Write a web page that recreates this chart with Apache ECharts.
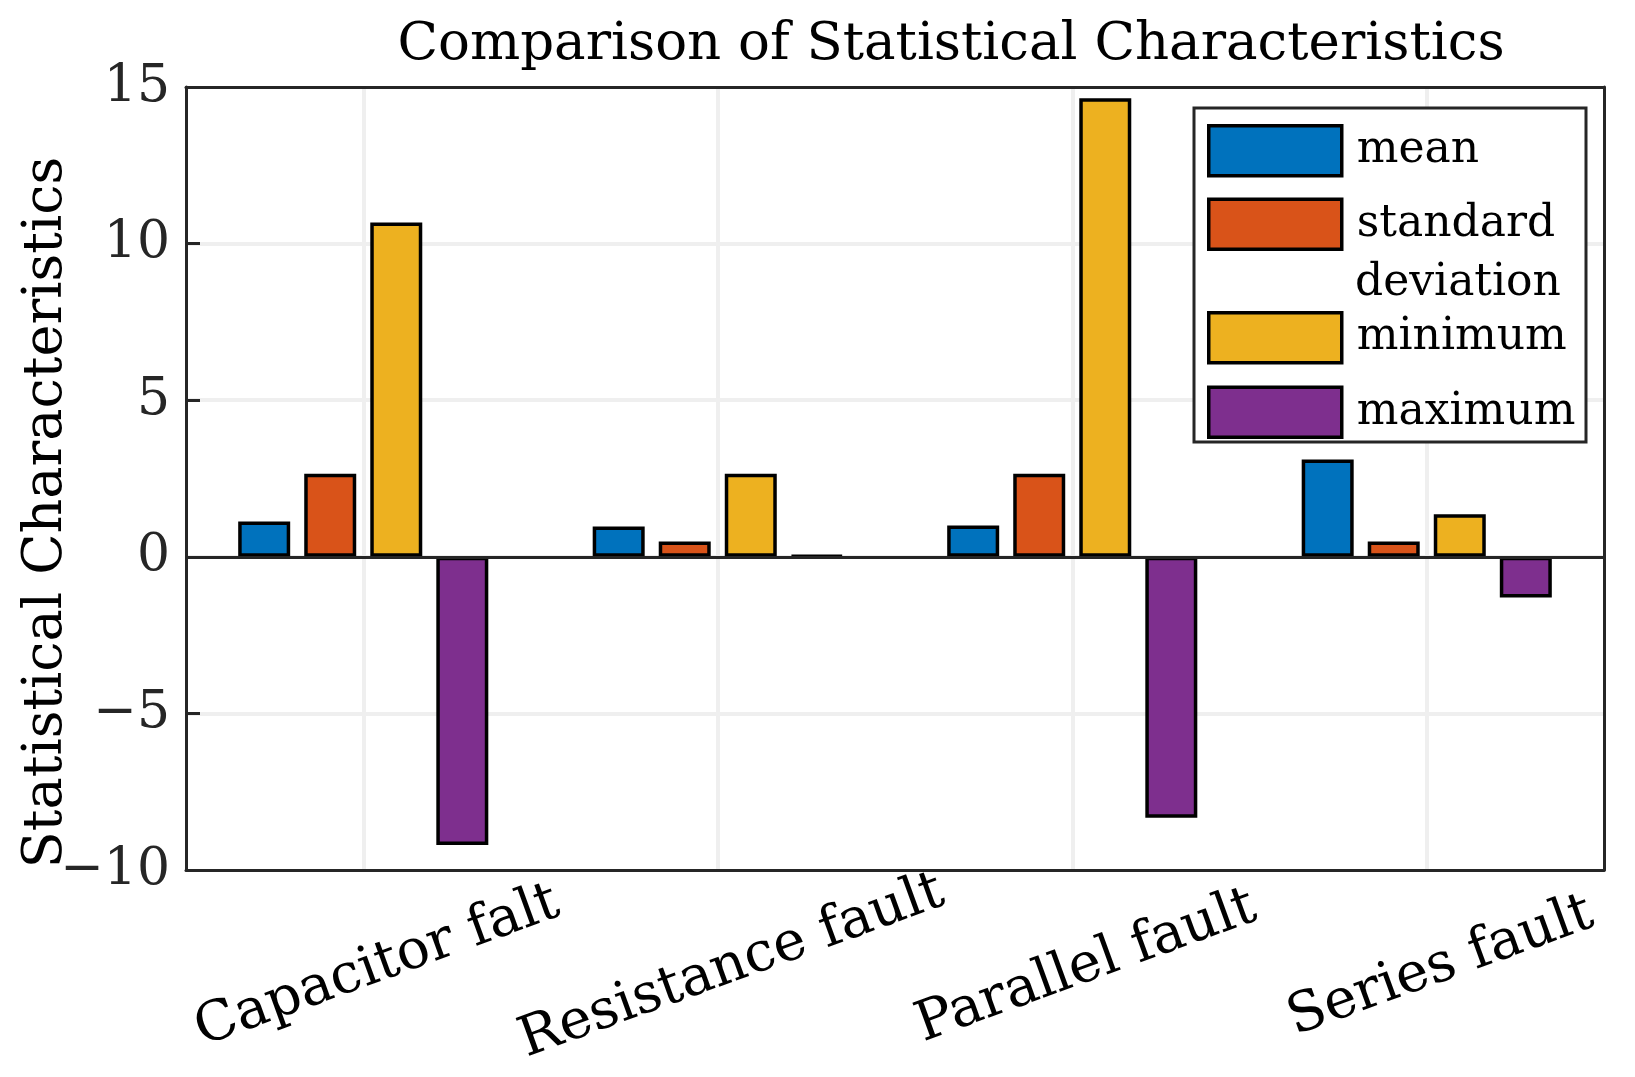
<!DOCTYPE html>
<html lang="en">
<head>
    <meta charset="UTF-8">
    <title>Comparison of Statistical Characteristics</title>
    <style>
        html, body {margin: 0; padding: 0; background: #fff;}
        #main {width: 1635px; height: 1077px;}
    </style>
</head>
<body>
<div id="main"></div>
<script src="https://cdn.jsdelivr.net/npm/echarts@6/dist/echarts.min.js"></script>
<script type="text/javascript">
// data
var categories = ['Capacitor falt', 'Resistance fault', 'Parallel fault', 'Series fault'];
var seriesNames = ['mean', 'standard deviation', 'minimum', 'maximum'];
var meanVals = [1.13, 0.97, 1.0, 3.11];
var stdVals = [2.65, 0.49, 2.65, 0.49];
var minVals = [10.67, 2.65, 14.64, 1.36];
var maxVals = [-9.2, 0.04, -8.33, -1.3];
var yTicks = {min: -10, max: 15, step: 5};

var colors = ['#0072BD', '#D95319', '#EDB120', '#7E2F8E'];
var FONT = '"DejaVu Serif", serif';
var AXIS = '#262626';
var GRIDC = '#efefef';

var chart = echarts.init(document.getElementById('main'));

function barSeries(name, data, idx) {
    var s = {
        name: name,
        type: 'bar',
        data: data,
        barWidth: 52,
        barGap: '27%',
        itemStyle: {color: colors[idx], borderColor: '#000', borderWidth: 3.5},
        emphasis: {disabled: true}
    };
    if (idx === 0) {
        // baseline at zero
        s.markLine = {
            symbol: 'none',
            silent: true,
            label: {show: false},
            lineStyle: {color: AXIS, width: 3, type: 'solid'},
            data: [{yAxis: 0}]
        };
    }
    return s;
}

// plain axes only used to draw the box (top / right)
function boxAxis(pos, isX) {
    var a = {
        position: pos,
        z: 10,
        axisLine: {show: true, onZero: false, lineStyle: {color: AXIS, width: 3}},
        axisTick: {show: false},
        axisLabel: {show: false},
        splitLine: {show: false}
    };
    if (isX) {
        a.type = 'category';
        a.data = categories;
    } else {
        a.type = 'value';
        a.min = yTicks.min; a.max = yTicks.max; a.interval = yTicks.step;
    }
    return a;
}

var legendText = {fontFamily: FONT, fontSize: 44, color: '#000', padding: [0, 0, 0, 10]};
var legendIcon = {borderColor: '#000', borderWidth: 3.5};

chart.setOption({
    animation: false,
    title: {
        text: 'Comparison of Statistical Characteristics',
        left: 946,
        textAlign: 'center',
        top: 14,
        textStyle: {fontFamily: FONT, fontSize: 53, fontWeight: 'normal', color: '#000'}
    },
    grid: {left: 186, right: 31, top: 87, bottom: 207, outerBoundsMode: 'none', containLabel: false},
    legend: [
        {
            data: [seriesNames[0], seriesNames[1]],
            orient: 'vertical',
            left: 1207, top: 124, padding: 0,
            itemWidth: 133, itemHeight: 50, itemGap: 20,
            icon: 'rect',
            itemStyle: legendIcon,
            formatter: function (n) { return n === 'standard deviation' ? 'standard' : n; },
            textStyle: legendText
        },
        {
            data: [seriesNames[2], seriesNames[3]],
            orient: 'vertical',
            left: 1207, top: 311, padding: 0,
            itemWidth: 133, itemHeight: 50, itemGap: 21,
            icon: 'rect',
            itemStyle: legendIcon,
            textStyle: legendText
        }
    ],
    graphic: [
        {
            type: 'rect', z: 3,
            shape: {x: 1194, y: 108, width: 392, height: 334},
            style: {fill: '#fff', stroke: AXIS, lineWidth: 3}
        },
        {
            type: 'text', z: 5, x: 1355, y: 284,
            style: {text: 'deviation', fontFamily: FONT, fontSize: 44, fill: '#000', verticalAlign: 'middle'}
        }
    ],
    xAxis: [
        {
            type: 'category',
            position: 'bottom',
            data: categories,
            axisLine: {onZero: false, lineStyle: {color: AXIS, width: 3}},
            axisTick: {inside: true, alignWithLabel: true, length: 12, lineStyle: {color: AXIS, width: 3}},
            splitLine: {show: true, alignWithLabel: true, lineStyle: {color: GRIDC, width: 4}},
            axisLabel: {
                rotate: 20, align: 'center', verticalAlign: 'middle', margin: 102,
                padding: [0, 0, 0, 30],
                fontFamily: FONT, fontSize: 55, color: '#000'
            }
        },
        boxAxis('top', true)
    ],
    yAxis: [
        {
            type: 'value',
            position: 'left',
            min: yTicks.min, max: yTicks.max, interval: yTicks.step,
            name: 'Statistical Characteristics',
            nameLocation: 'middle',
            nameRotate: 90,
            nameGap: 112,
            nameMoveOverlap: false,
            nameTextStyle: {fontFamily: FONT, fontSize: 54, color: '#000', padding: [0, 68, 0, 0]},
            axisLine: {show: true, onZero: false, lineStyle: {color: AXIS, width: 3}},
            axisTick: {show: true, inside: true, length: 14, lineStyle: {color: AXIS, width: 3}},
            splitLine: {show: true, showMinLine: false, showMaxLine: false, lineStyle: {color: GRIDC, width: 4}},
            axisLabel: {
                fontFamily: FONT, fontSize: 52, color: AXIS, margin: 16,
                formatter: function (v) { return String(v).replace('-', '\u2212'); }
            }
        },
        boxAxis('right', false)
    ],
    series: [
        barSeries(seriesNames[0], meanVals, 0),
        barSeries(seriesNames[1], stdVals, 1),
        barSeries(seriesNames[2], minVals, 2),
        barSeries(seriesNames[3], maxVals, 3)
    ]
});
</script>
</body>
</html>
